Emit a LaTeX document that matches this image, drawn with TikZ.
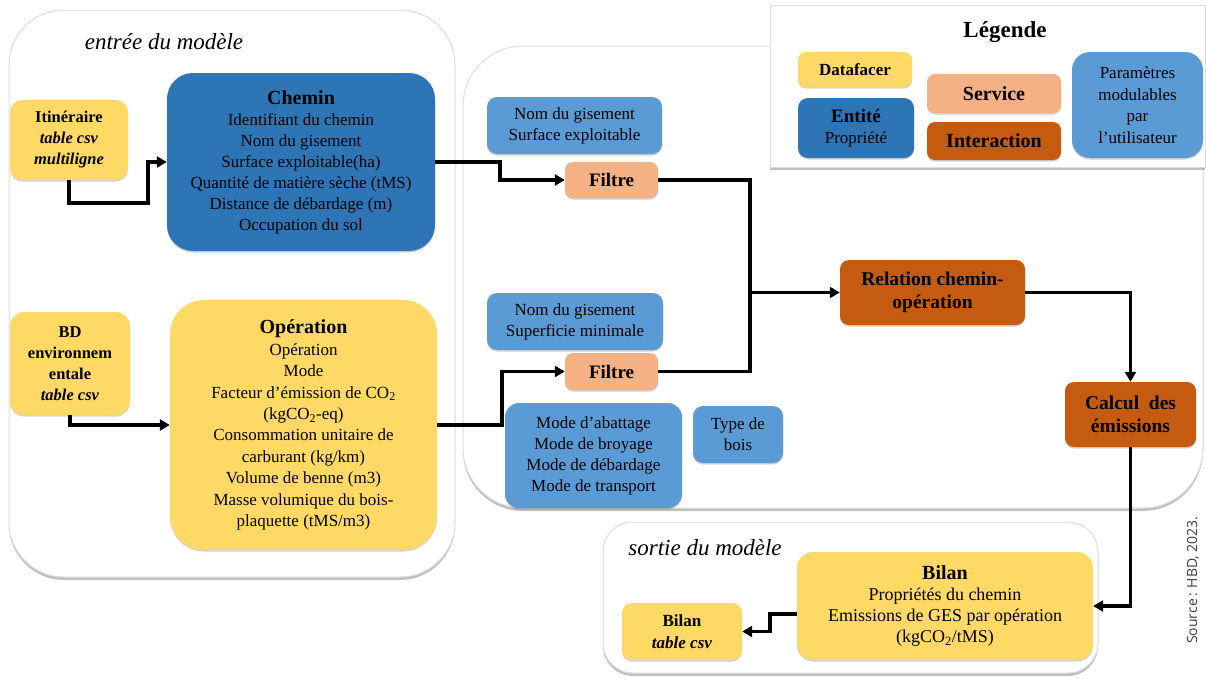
\documentclass[tikz,border=0pt]{standalone}
\usepackage{fontspec}
\setmainfont{Liberation Serif}
\newfontfamily\srcfont{Open Sans}
\usetikzlibrary{arrows.meta,shadows,calc}
\definecolor{cyel}{HTML}{FFD966}
\definecolor{cdblue}{HTML}{2E75B6}
\definecolor{clblue}{HTML}{5B9BD5}
\definecolor{csal}{HTML}{F4B183}
\definecolor{corg}{HTML}{C55A11}
\definecolor{cframe}{HTML}{DDDDDD}
\tikzset{
  base/.style={align=center, inner sep=0pt, text=black, font=\fontsize{17}{21}\selectfont},
  yel/.style={base, fill=cyel},
  dblue/.style={base, fill=cdblue},
  lblue/.style={base, fill=clblue},
  sal/.style={base, fill=csal},
  org/.style={base, fill=corg},
  container/.style={draw=cframe, line width=1pt, fill=white,
     drop shadow={shadow xshift=0pt, shadow yshift=-3pt, opacity=0.35, fill=black!70}},
  boxshadow/.style={drop shadow={shadow xshift=0pt, shadow yshift=-1.5pt, opacity=0.25, fill=black!70}},
  ln/.style={line width=3.2pt, black},
  arr/.style={ln, -{Triangle[length=10pt,width=11pt]}},
  bigb/.style={font=\bfseries\fontsize{20}{24}\selectfont}
}
\begin{document}
\begin{tikzpicture}[x=1pt,y=-1pt]
\useasboundingbox (0,0) rectangle (1206,678);

% containers
\path[container, rounded corners=55pt] (9,10) rectangle (455,577);
\path[container, rounded corners=60pt] (463,46) rectangle (1203,508);
\path[container] (770,5) rectangle (1205,167);
\path[container, rounded corners=30pt] (603,522) rectangle (1098,673);

\node[font=\itshape\fontsize{23}{26}\selectfont] (lin) at (164,42) {entrée du modèle};
\node[font=\itshape\fontsize{23}{26}\selectfont] (lout) at (705,548) {sortie du modèle};

% left column
\node[yel, boxshadow, rounded corners=12pt, minimum width=118pt, minimum height=80pt, font=\fontsize{16.5}{21}\selectfont] (itin) at (69,140)
  {\textbf{Itinéraire}\\\textbf{\textit{table csv}}\\\textbf{\textit{multiligne}}};
\node[dblue, boxshadow, rounded corners=26pt, minimum width=268pt, minimum height=178pt] (chemin) at (301,162)
  {{\bfseries\fontsize{20}{21}\selectfont Chemin}\\Identifiant du chemin\\Nom du gisement\\Surface exploitable(ha)\\Quantité de matière sèche (tMS)\\Distance de débardage (m)\\Occupation du sol};
\node[yel, boxshadow, rounded corners=14pt, minimum width=120pt, minimum height=103pt, font=\fontsize{16.5}{21}\selectfont] (bd) at (70,363.5)
  {\textbf{BD}\\\textbf{environnem}\\\textbf{entale}\\\textbf{\textit{table csv}}};
\node[yel, boxshadow, rounded corners=34pt, minimum width=267pt, minimum height=250pt, font=\fontsize{17}{21.4}\selectfont] (oper) at (303.5,425)
  {{\bfseries\fontsize{20}{21.4}\selectfont Opération}\\Opération\\Mode\\Facteur d’émission de CO\textsubscript{2}\\(kgCO\textsubscript{2}-eq)\\Consommation unitaire de\\carburant (kg/km)\\Volume de benne (m3)\\Masse volumique du bois-\\plaquette (tMS/m3)};

% middle
\node[lblue, boxshadow, rounded corners=10pt, minimum width=175pt, minimum height=57pt] (p1) at (574.5,125.5)
  {Nom du gisement\\Surface exploitable};
\node[sal, boxshadow, rounded corners=8pt, minimum width=93pt, minimum height=36pt, font=\bfseries\fontsize{19}{22}\selectfont] (f1) at (611.5,180) {Filtre};
\node[lblue, boxshadow, rounded corners=10pt, minimum width=176pt, minimum height=57pt] (p2) at (575,321.5)
  {Nom du gisement\\Superficie minimale};
\node[sal, boxshadow, rounded corners=8pt, minimum width=93pt, minimum height=37pt, font=\bfseries\fontsize{19}{22}\selectfont] (f2) at (611.5,371.5) {Filtre};
\node[lblue, boxshadow, rounded corners=14pt, minimum width=177pt, minimum height=105pt] (modes) at (593.5,455.5)
  {Mode d’abattage\\Mode de broyage\\Mode de débardage\\Mode de transport};
\node[lblue, boxshadow, rounded corners=10pt, minimum width=90pt, minimum height=57pt] (bois) at (738,434.5)
  {Type de\\bois};
\node[org, boxshadow, rounded corners=9pt, minimum width=185pt, minimum height=65pt, font=\bfseries\fontsize{19.5}{23}\selectfont] (rel) at (932.5,292.5)
  {Relation chemin-\\opération};
\node[org, boxshadow, rounded corners=9pt, minimum width=131pt, minimum height=65pt, font=\bfseries\fontsize{19.5}{23}\selectfont] (calc) at (1130.5,414.5)
  {Calcul\ \ des\\émissions};

% output
\node[yel, boxshadow, rounded corners=16pt, minimum width=296pt, minimum height=108pt, font=\fontsize{18}{21}\selectfont] (bilan) at (945,606)
  {{\bfseries\fontsize{20}{21}\selectfont Bilan}\\Propriétés du chemin\\Emissions de GES par opération\\(kgCO\textsubscript{2}/tMS)};
\node[yel, boxshadow, rounded corners=10pt, minimum width=120pt, minimum height=57pt, font=\fontsize{17}{22}\selectfont] (bcsv) at (682,631.5)
  {\textbf{Bilan}\\\textbf{\textit{table csv}}};

% legend
\node[font=\bfseries\fontsize{23}{26}\selectfont] (legt) at (1005,32) {Légende};
\node[yel, boxshadow, rounded corners=8pt, minimum width=114pt, minimum height=35pt, font=\bfseries\fontsize{17}{20}\selectfont] (ld) at (855,69.5) {Datafacer};
\node[dblue, boxshadow, rounded corners=10pt, minimum width=116pt, minimum height=60pt, font=\fontsize{17}{21}\selectfont] (le) at (856,128)
  {{\bfseries\fontsize{19}{21}\selectfont Entité}\\Propriété};
\node[sal, boxshadow, rounded corners=8pt, minimum width=134pt, minimum height=39pt, font=\bfseries\fontsize{20}{22}\selectfont] (ls) at (994,93.5) {Service};
\node[org, boxshadow, rounded corners=8pt, minimum width=134pt, minimum height=38pt, font=\bfseries\fontsize{20}{22}\selectfont] (li) at (994,141) {Interaction};
\node[lblue, boxshadow, rounded corners=18pt, minimum width=131pt, minimum height=106pt, font=\fontsize{17}{21.5}\selectfont] (lp) at (1137.5,105)
  {Paramètres\\modulables\\par\\l’utilisateur};

\node[rotate=90, font=\srcfont\fontsize{14}{16}\selectfont, text=black!75] (src) at (1193,580) {Source\,: HBD, 2023.};

% connectors
\coordinate (c1) at (148,203);
\draw[arr] (itin.south) |- (c1) |- (chemin.west);
\draw[arr] (bd.south) |- (oper.west);
\coordinate (j1) at (500,180);
\draw[arr] (chemin.east) -| (j1) -- (f1.west);
\coordinate (j2) at (502,371.5);
\draw[arr] (oper.east) -| (j2) -- (f2.west);
\coordinate (m) at (750,292.5);
\draw[ln] (f1.east) -| (m);
\draw[ln] (f2.east) -| (m);
\draw[arr] (m) -- (rel.west);
\draw[arr] (rel.east) -| (calc.north);
\draw[arr] (calc.south) |- (bilan.east);
\coordinate (k2) at (770,631.5);
\draw[arr] ([yshift=-8pt]bilan.west) -| (k2) -- (bcsv.east);
\end{tikzpicture}
\end{document}
